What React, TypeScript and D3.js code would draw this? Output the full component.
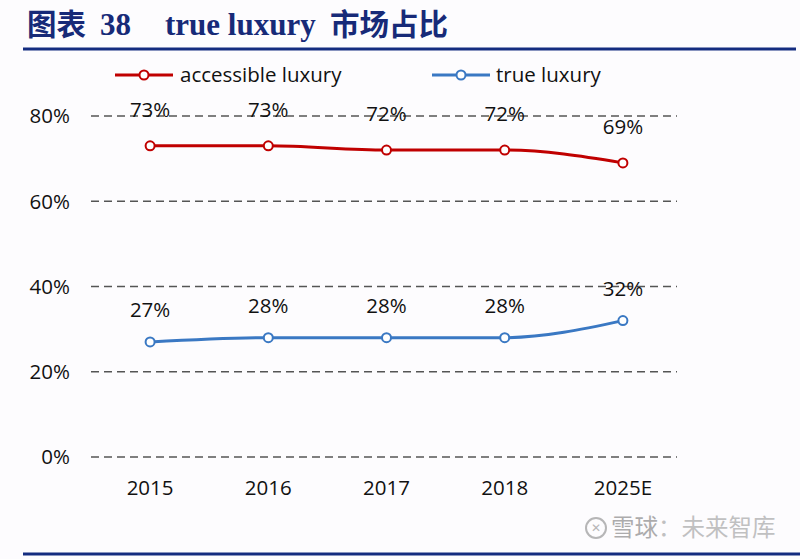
import React from "react";
import * as d3 from "d3";

const categories = ["2015", "2016", "2017", "2018", "2025E"];
const accessibleLuxury = [73, 73, 72, 72, 69];
const trueLuxury = [27, 28, 28, 28, 32];
const yTicks = [0, 20, 40, 60, 80];

const W = 800;
const H = 559;

export default function App() {
  const x = d3.scaleBand<string>().domain(categories).range([91, 682]);
  const y = d3.scaleLinear().domain([0, 80]).range([457, 116]);
  const cx = (c: string) => (x(c) as number) + x.bandwidth() / 2;
  const line = d3
    .line<number>()
    .x((_, i) => cx(categories[i]))
    .y((d) => y(d))
    .curve(d3.curveMonotoneX);

  const font = "'Open Sans', 'Noto Sans', sans-serif";
  const serif = "'Liberation Serif', serif";
  const cjk = "'Noto Sans CJK SC', sans-serif";
  const series = [
    { name: "accessible luxury", data: accessibleLuxury, color: "#c00000", labelDy: -36 },
    { name: "true luxury", data: trueLuxury, color: "#3a78c3", labelDy: -32 },
  ];

  return (
    <svg
      width={W}
      height={H}
      style={{ position: "absolute", left: 0, top: 0, background: "#fdfcfe" }}
    >
      <rect x={0} y={0} width={W} height={H} fill="#fdfcfe" />
      {/* Title */}
      <g fill="#172a78" fontWeight="bold">
        <text x={27} y={35} fontSize={29.5} fontFamily={cjk}>图表</text>
        <text x={100} y={35} fontSize={31} fontFamily={serif}>38</text>
        <text x={165} y={35} fontSize={31} fontFamily={serif}>true luxury</text>
        <text x={330} y={35} fontSize={29.5} fontFamily={cjk}>市场占比</text>
      </g>
      <line x1={23} x2={796} y1={49} y2={49} stroke="#142c80" strokeWidth={3} />
      <line x1={23} x2={800} y1={554} y2={554} stroke="#142c80" strokeWidth={3} />

      {/* Gridlines and y ticks */}
      {yTicks.map((t) => (
        <g key={t}>
          <line
            x1={91}
            x2={677}
            y1={y(t)}
            y2={y(t)}
            stroke="#555"
            strokeWidth={1.3}
            strokeDasharray="8,5"
          />
          <text
            x={70}
            y={y(t)}
            dy="0.36em"
            textAnchor="end"
            fontSize={20.5}
            fontFamily={font}
            fill="#111"
          >
            {t}%
          </text>
        </g>
      ))}

      {/* x labels */}
      {categories.map((c) => (
        <text
          key={c}
          x={cx(c)}
          y={495}
          textAnchor="middle"
          fontSize={20.5}
          fontFamily={font}
          fill="#111"
        >
          {c}
        </text>
      ))}

      {/* Series */}
      {series.map((s) => (
        <g key={s.name}>
          <path d={line(s.data) as string} fill="none" stroke={s.color} strokeWidth={3} />
          {s.data.map((v, i) => (
            <circle
              key={i}
              cx={cx(categories[i])}
              cy={y(v)}
              r={4.5}
              fill="#fff"
              stroke={s.color}
              strokeWidth={2}
            />
          ))}
          {s.data.map((v, i) => (
            <text
              key={"l" + i}
              x={cx(categories[i])}
              y={y(v) + s.labelDy}
              dy="0.36em"
              textAnchor="middle"
              fontSize={20.5}
              fontFamily={font}
              fill="#111"
            >
              {v}%
            </text>
          ))}
        </g>
      ))}

      {/* Legend */}
      {[
        { s: series[0], x0: 115, tx: 180 },
        { s: series[1], x0: 432, tx: 496 },
      ].map(({ s, x0, tx }) => (
        <g key={s.name}>
          <line x1={x0} x2={x0 + 58} y1={75} y2={75} stroke={s.color} strokeWidth={3} />
          <circle cx={x0 + 29} cy={75} r={4.5} fill="#fff" stroke={s.color} strokeWidth={2} />
          <text x={tx} y={75} dy="0.36em" fontSize={20.5} fontFamily={font} fill="#111">
            {s.name}
          </text>
        </g>
      ))}

      {/* Watermark */}
      <g opacity={0.6}>
        <circle cx={596} cy={528} r={10} fill="none" stroke="#888" strokeWidth={2} />
        <text x={596} y={528} dy="0.35em" textAnchor="middle" fontSize={12} fill="#888" fontFamily={font}>
          ✕
        </text>
        <text x={611} y={528} dy="0.35em" fontSize={23.5} fill="#999" fontFamily={cjk}>
          <tspan fill="#777">雪球</tspan>：未来智库
        </text>
      </g>
    </svg>
  );
}
